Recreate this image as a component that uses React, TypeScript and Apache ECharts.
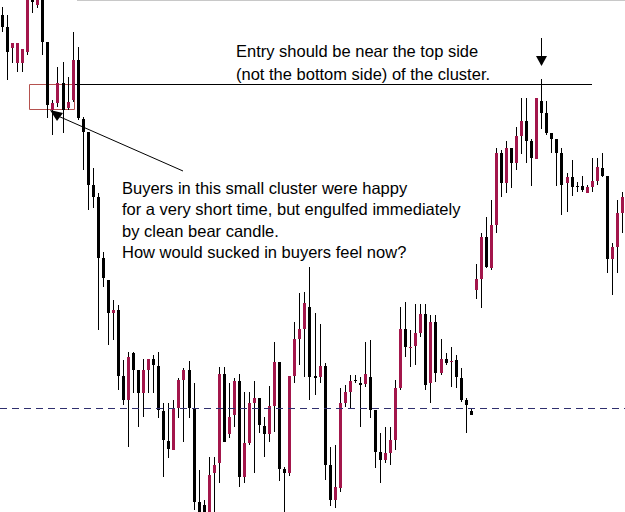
import React, { useEffect, useRef } from "react";
import * as echarts from "echarts";

// Prices (arbitrary point scale; higher = higher price)
const opens = [585, 573, 552, 537, 537, 548, 605, 595, 605, 558, 490, 497, 517, 492, 500, 540, 481, 468, 415, 403, 342, 320, 287, 290, 224, 200, 247, 230, 207, 230, 241, 234, 189, 159, 150, 192, 220, 230, 192, 98, 95, 80, 127, 137, 226, 166, 185, 219, 123, 157, 197, 202, 174, 166, 194, 238, 131, 127, 224, 261, 271, 293, 224, 223, 234, 135, 100, 112, 197, 208, 220, 217, 216, 223, 190, 148, 140, 147, 160, 212, 271, 252, 254, 267, 286, 217, 278, 227, 241, 238, 240, 222, 200, 189, 310, 321, 363, 332, 375, 447, 417, 452, 437, 464, 479, 459, 441, 499, 487, 467, 461, 447, 417, 423, 414, 414, 407, 413, 419, 432, 424, 341, 353, 387];
const closes = [573, 548, 557, 557, 551, 608, 598, 600, 558, 495, 497, 517, 490, 498, 540, 482, 468, 415, 403, 342, 322, 287, 290, 224, 200, 243, 230, 207, 230, 241, 235, 190, 160, 151, 192, 220, 230, 192, 98, 85, 85, 125, 135, 226, 158, 183, 219, 123, 157, 197, 202, 175, 166, 194, 238, 131, 127, 224, 261, 271, 297, 223, 222, 234, 135, 100, 113, 197, 208, 219, 219, 215, 226, 190, 148, 140, 147, 160, 212, 271, 253, 253, 267, 286, 215, 278, 227, 241, 237, 239, 223, 200, 195, 185, 321, 363, 333, 375, 447, 417, 452, 437, 464, 479, 459, 442, 502, 487, 467, 461, 447, 415, 423, 413, 413, 410, 413, 419, 433, 424, 341, 353, 387, 403];
const lows = [568, 520, 537, 528, 528, 545, 587, 592, 545, 482, 465, 493, 467, 490, 498, 480, 430, 390, 392, 270, 313, 255, 260, 210, 195, 153, 207, 173, 183, 207, 207, 182, 123, 142, 150, 182, 158, 182, 90, 80, 80, 75, 80, 117, 158, 162, 173, 113, 117, 155, 127, 167, 143, 158, 168, 119, 80, 124, 217, 235, 223, 200, 205, 217, 120, 94, 92, 108, 193, 192, 217, 173, 213, 182, 132, 117, 137, 135, 150, 210, 243, 233, 235, 263, 210, 197, 218, 225, 235, 213, 212, 198, 167, 185, 301, 292, 332, 330, 367, 403, 407, 412, 430, 446, 437, 414, 441, 471, 465, 447, 414, 385, 388, 404, 408, 408, 407, 408, 415, 423, 327, 305, 327, 367];
const highs = [593, 585, 557, 557, 551, 610, 610, 603, 608, 558, 500, 533, 538, 523, 568, 553, 483, 468, 432, 407, 348, 320, 300, 295, 240, 248, 248, 230, 241, 241, 245, 248, 197, 197, 200, 222, 232, 239, 217, 130, 100, 143, 143, 233, 233, 217, 222, 226, 208, 208, 219, 202, 183, 214, 258, 238, 133, 224, 278, 307, 308, 333, 287, 276, 237, 153, 155, 212, 215, 225, 225, 223, 258, 260, 190, 167, 173, 173, 220, 293, 298, 270, 296, 296, 296, 285, 285, 261, 247, 253, 245, 232, 202, 192, 336, 367, 383, 400, 452, 450, 459, 452, 473, 502, 502, 461, 502, 521, 499, 467, 461, 452, 427, 440, 418, 424, 415, 442, 442, 447, 424, 357, 400, 408];
const categories = opens.map((_, i) => String(i + 1));
const supportLevel = 191.5; // dashed line
const PRICE_MIN = 88;
const PRICE_MAX = 600;

const entryLines = ["Entry should be near the top side", "(not the bottom side) of the cluster."];
const noteLines = [
  "Buyers in this small cluster were happy",
  "for a very short time, but engulfed immediately",
  "by clean bear candle.",
  "How would sucked in buyers feel now?",
];

const BULL = "#a3164b";
const BEAR = "#000000";
const FONT = "'Liberation Sans', Arial, sans-serif";
const FONT_SIZE = 16.5;

export default function App() {
  const ref = useRef<HTMLDivElement>(null);
  useEffect(() => {
    document.body.style.margin = "0";
    const chart = echarts.init(ref.current!, null, { renderer: "svg" });
    const data = opens.map((o, i) => [i, o, closes[i], lows[i], highs[i]]);

    const textEls: any[] = [];
    entryLines.forEach((t, i) => {
      textEls.push({
        type: "text",
        x: 236,
        y: 51 + i * 22.5,
        silent: true,
        style: { text: t, fill: "#000", fontFamily: FONT, fontSize: FONT_SIZE, align: "left", verticalAlign: "middle" },
      });
    });
    noteLines.forEach((t, i) => {
      textEls.push({
        type: "text",
        x: 122,
        y: 187.5 + i * 21.5,
        silent: true,
        style: { text: t, fill: "#000", fontFamily: FONT, fontSize: FONT_SIZE, align: "left", verticalAlign: "middle" },
      });
    });

    chart.setOption({
      animation: false,
      backgroundColor: "#ffffff",
      grid: { left: -1, right: 0, top: 0, bottom: 0 },
      xAxis: {
        type: "category",
        data: categories,
        boundaryGap: true,
        show: false,
      },
      yAxis: {
        type: "value",
        min: PRICE_MIN,
        max: PRICE_MAX,
        show: false,
        splitLine: { show: false },
      },
      series: [
        {
          type: "custom",
          clip: true,
          data,
          renderItem: (params: any, api: any) => {
            const i = api.value(0);
            const o = api.value(1);
            const c = api.value(2);
            const l = api.value(3);
            const h = api.value(4);
            const pO = api.coord([i, o]);
            const pC = api.coord([i, c]);
            const pL = api.coord([i, l]);
            const pH = api.coord([i, h]);
            const px = Math.floor(pO[0]);
            const bull = c > o;
            const top = Math.round(Math.min(pO[1], pC[1]));
            const bot = Math.round(Math.max(pO[1], pC[1]));
            const bh = Math.max(1, bot - top);
            return {
              type: "group",
              children: [
                {
                  type: "line",
                  shape: { x1: px + 0.5, y1: Math.round(pH[1]), x2: px + 0.5, y2: Math.round(pL[1]) },
                  style: { stroke: "#000", lineWidth: 1 },
                },
                {
                  type: "rect",
                  shape: { x: px - 1, y: top, width: 3, height: bh },
                  style: { fill: bull ? BULL : BEAR },
                },
              ],
            };
          },
          markLine: {
            silent: true,
            symbol: "none",
            label: { show: false },
            lineStyle: { color: "#2f2f6e", width: 1, type: [7, 5] },
            data: [{ yAxis: supportLevel }],
          },
        },
      ],
      graphic: [
        // top border of the chart window
        { type: "line", silent: true, shape: { x1: 77, y1: 0.5, x2: 625, y2: 0.5 }, style: { stroke: "#c8c8c8", lineWidth: 1 } },
        // cluster box
        { type: "rect", silent: true, shape: { x: 29.5, y: 84.5, width: 45, height: 25 }, style: { fill: "none", stroke: "#b5524f", lineWidth: 1 } },
        // entry level line
        { type: "line", silent: true, shape: { x1: 74, y1: 84.5, x2: 592, y2: 84.5 }, style: { stroke: "#000", lineWidth: 1 } },
        // pointer line to the cluster
        { type: "line", silent: true, shape: { x1: 58, y1: 116, x2: 183, y2: 171 }, style: { stroke: "#000", lineWidth: 1 } },
        { type: "polygon", silent: true, shape: { points: [[50, 110], [63, 113], [57, 121]] }, style: { fill: "#000" } },
        // down arrow at the top
        { type: "line", silent: true, shape: { x1: 541.5, y1: 38, x2: 541.5, y2: 57 }, style: { stroke: "#000", lineWidth: 1 } },
        { type: "polygon", silent: true, shape: { points: [[536, 56], [547, 56], [541.5, 66]] }, style: { fill: "#000" } },
        ...textEls,
      ],
    });
    return () => chart.dispose();
  }, []);
  return (
    <div
      ref={ref}
      style={{ position: "absolute", left: 0, top: 0, width: 625, height: 512, background: "#fff" }}
    />
  );
}
